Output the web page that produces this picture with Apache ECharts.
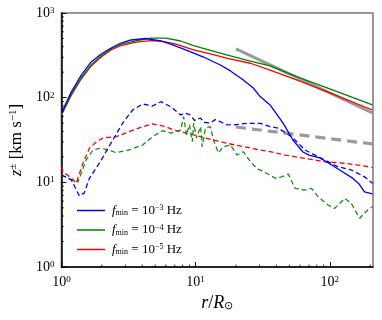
<!DOCTYPE html>
<html>
<head>
<meta charset="utf-8">
<script src="https://cdn.jsdelivr.net/npm/echarts@6/dist/echarts.min.js"></script>
<style>
  html, body { margin: 0; padding: 0; background: #fff; }
  #chart { width: 382px; height: 320px; }
</style>
</head>
<body>
<div id="chart"></div>
<script>
var chart = echarts.init(document.getElementById('chart'));

// solid curves [r, z]
const solid3 = [[1, 66], [1.186, 117], [1.406, 185], [1.668, 264], [1.979, 328], [2.346, 386], [2.783, 442], [3.3, 480], [4.26, 500], [5.51, 467], [6.53, 430], [8.43, 366], [11.46, 302], [15.3, 243], [18.2, 207], [22.7, 162], [26.9, 130], [30.3, 103], [35.9, 82], [44.9, 50], [53.2, 31.6], [63.1, 22.8], [70, 21], [84.3, 19.4], [95, 17.4], [118.6, 14.0], [148, 11.2], [165, 9.6], [181.5, 7.7], [208, 7.3]];
const solid4 = [[1, 63], [1.186, 110], [1.406, 172], [1.668, 245], [1.979, 312], [2.346, 378], [2.783, 428], [3.59, 470], [4.64, 505], [6.0, 505], [7.74, 467], [9.67, 413], [12.9, 361], [17.3, 319], [25.6, 271], [35.9, 237], [60, 171], [100, 127], [208, 82]];
const solid5 = [[1, 62.4], [1.186, 107], [1.406, 166], [1.668, 237], [1.979, 302], [2.346, 366], [2.783, 413], [3.59, 454], [4.64, 473], [5.51, 467], [7.11, 430], [9.67, 366], [12.9, 328], [17.3, 292], [25.6, 255], [35.9, 212], [60, 157], [100, 114], [208, 71.5]];

// dashed curves [r, z]
const dash3 = [[1, 12.2], [1.186, 10.7], [1.362, 6.9], [1.48, 7.5], [1.62, 11.2], [1.92, 16.9], [2.415, 31.6], [2.864, 50.2], [3.397, 71.5], [4.03, 84.1], [4.78, 79.7], [5.51, 89.6], [6.53, 78.2], [7.74, 62.4], [8.3, 66], [9.18, 62.4], [9.8, 54], [10.9, 57.5], [11.5, 51], [12.9, 50.2], [14, 55], [15.3, 52.0], [17, 48], [19.1, 47.5], [24.2, 49.8], [30.3, 49.8], [35.9, 45.4], [41.2, 43.8], [52.0, 34.6], [65.3, 24.1], [86.8, 19.2], [114.6, 15.3], [144.8, 14.0], [181.7, 11.6], [208, 9.75]];
const dash4 = [[1, 12.2], [1.186, 10.7], [1.33, 10.1], [1.53, 18.4], [1.72, 24.1], [1.92, 25.2], [2.15, 24.5], [2.56, 22.4], [3.2, 24.1], [4.03, 27.6], [4.78, 34.6], [5.67, 40.7], [6.53, 38.2], [7.74, 41.5], [8.15, 59.6], [8.56, 36], [9.0, 48], [9.46, 30.2], [9.67, 50.2], [10.17, 33.4], [10.9, 45.4], [11.2, 26.4], [11.86, 43.8], [12.9, 45.4], [13.6, 31.6], [14.8, 22.2], [16.1, 26.4], [18.2, 27.6], [20.4, 21.0], [22.7, 23.0], [25.6, 17.5], [28.6, 14.6], [31.9, 13.4], [35.9, 12.2], [39.1, 11.2], [43.9, 11.6], [49.1, 12.5], [55.1, 8.5], [65.3, 8.1], [73.2, 8.5], [81.9, 6.77], [97.1, 5.4], [108.9, 4.93], [129.2, 6.48], [144.8, 5.65], [166.8, 3.76], [192, 4.71], [208, 5.15]];
const dash5 = [[1, 15.2], [1.035, 13.2], [1.186, 11.2], [1.29, 9.8], [1.45, 16.9], [1.62, 25.4], [1.82, 29.9], [2.04, 33.4], [2.56, 34.6], [3.2, 39.6], [4.03, 45.4], [4.78, 48.9], [6.0, 45.4], [6.87, 41.5], [8.68, 37.9], [10.9, 34.6], [13.6, 31.6], [17.2, 28.9], [22.7, 26.4], [30.3, 24.1], [35.9, 23.0], [46.4, 21.0], [65.3, 19.2], [91.8, 17.5], [129, 16.8], [182, 15.6], [208, 14.9]];

// reference power laws
const fitSolid = [[20, 376], [208, 66]];
const fitDash = [[20, 45], [208, 28.4]];

const xMin = 1, xMax = 210, yMin = 1, yMax = 1000;
const xMinor = [2, 3, 4, 5, 6, 7, 8, 9, 20, 30, 40, 50, 60, 70, 80, 90, 200];
const yMinor = [2, 3, 4, 5, 6, 7, 8, 9, 20, 30, 40, 50, 60, 70, 80, 90, 200, 300, 400, 500, 600, 700, 800, 900];

const legendText = {
    f3: '{i|f}{sub|min} = 10{sup|−3} Hz',
    f4: '{i|f}{sub|min} = 10{sup|−4} Hz',
    f5: '{i|f}{sub|min} = 10{sup|−5} Hz'
};

const serif = 'Liberation Serif';

function powLabel(v) {
    var e = Math.round(Math.log10(v));
    return '{b|10}{sup|' + e + '}';
}

function minorTicks(axis, values, len) {
    return {
        type: 'custom',
        silent: true,
        z: 5,
        data: values.map(function (v) { return axis === 'x' ? [v, yMin] : [xMin, v]; }),
        renderItem: function (params, api) {
            var p = api.coord([api.value(0), api.value(1)]);
            var shape = axis === 'x'
                ? { x1: p[0], y1: p[1], x2: p[0], y2: p[1] - len }
                : { x1: p[0], y1: p[1], x2: p[0] + len, y2: p[1] };
            return { type: 'line', shape: shape, style: { stroke: '#000', lineWidth: 0.8 } };
        }
    };
}

function line(name, data, color, dash, width) {
    return {
        name: name,
        type: 'line',
        data: data,
        symbol: 'none',
        smooth: false,
        lineStyle: { color: color, width: width || 1.3, type: dash || 'solid' },
        itemStyle: { color: color }
    };
}

var labelRich = {
    b: { fontFamily: serif, fontSize: 14, color: '#000' },
    sup: { fontFamily: serif, fontSize: 9, color: '#000', verticalAlign: 'top', lineHeight: 12 }
};

chart.setOption({
    animation: false,
    grid: {
        left: 60, right: 9, top: 13, bottom: 53,
        show: true, borderColor: '#777', borderWidth: 1.5, backgroundColor: 'transparent'
    },
    legend: {
        data: ['f3', 'f4', 'f5'],
        orient: 'vertical',
        left: 72, top: 199,
        icon: 'rect',
        itemWidth: 28, itemHeight: 1.5, itemGap: 6.5,
        formatter: function (name) { return legendText[name]; },
        textStyle: {
            fontFamily: serif, fontSize: 13, color: '#000', padding: [0, 0, 0, 2],
            rich: {
                i: { fontFamily: serif, fontStyle: 'italic', fontSize: 13 },
                sub: { fontFamily: serif, fontSize: 8, verticalAlign: 'bottom', lineHeight: 10 },
                sup: { fontFamily: serif, fontSize: 8, verticalAlign: 'top', lineHeight: 10 }
            }
        }
    },
    xAxis: {
        type: 'log',
        min: xMin, max: xMax,
        axisLine: { lineStyle: { color: '#000', width: 1.5 } },
        axisTick: { inside: true, length: 5, lineStyle: { color: '#000' } },
        splitLine: { show: false },
        axisLabel: {
            margin: 8,
            showMaxLabel: false,
            formatter: powLabel,
            rich: labelRich
        },
        name: '{i|r}/{i|R}{sub|⊙}',
        nameLocation: 'middle',
        nameGap: 27,
        nameTextStyle: {
            fontFamily: serif, fontSize: 18, color: '#000',
            rich: {
                i: { fontFamily: serif, fontStyle: 'italic', fontSize: 18 },
                sub: { fontFamily: serif, fontSize: 11, verticalAlign: 'bottom', lineHeight: 14 }
            }
        }
    },
    yAxis: {
        type: 'log',
        min: yMin, max: yMax,
        axisLine: { lineStyle: { color: '#000', width: 1.5 } },
        axisTick: { inside: true, length: 5, lineStyle: { color: '#000' } },
        splitLine: { show: false },
        axisLabel: {
            margin: 7,
            formatter: powLabel,
            rich: labelRich
        },
        name: '{i|z}{sup|±} [km s{sup|−1}]',
        nameLocation: 'middle',
        nameGap: 36,
        nameRotate: 90,
        nameTextStyle: {
            fontFamily: serif, fontSize: 17, color: '#000',
            rich: {
                i: { fontFamily: serif, fontStyle: 'italic', fontSize: 17 },
                sup: { fontFamily: serif, fontSize: 11, verticalAlign: 'top', lineHeight: 14 }
            }
        }
    },
    series: [
        line('fitSolid', fitSolid, '#9a9a9a', null, 3),
        line('fitDash', fitDash, '#9a9a9a', [10, 6], 3.2),
        line('d5', dash5, '#ff0000', [5, 3]),
        line('d4', dash4, '#1a8a1a', [5, 3]),
        line('d3', dash3, '#0000ff', [5, 3]),
        line('f5', solid5, '#ff0000'),
        line('f4', solid4, '#008000'),
        line('f3', solid3, '#0000ff'),
        minorTicks('x', xMinor, 2.5),
        minorTicks('y', yMinor, 2.5)
    ]
});

window.addEventListener('resize', function () {
    chart.resize();
});
</script>
</body>
</html>
